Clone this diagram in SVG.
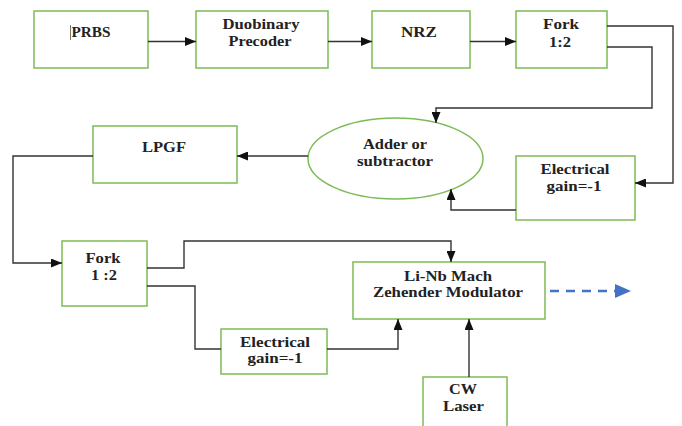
<svg xmlns="http://www.w3.org/2000/svg" width="682" height="426" viewBox="0 0 682 426">
<style>
.box{fill:#fff;stroke:#7dbb57;stroke-width:1.5}
.t{font-family:"Liberation Serif","Times New Roman",serif;font-weight:bold;font-size:14px;fill:#222;text-anchor:middle}
.c{fill:none;stroke:#333;stroke-width:1.4}
</style>
<defs>
<marker id="ah" markerUnits="userSpaceOnUse" markerWidth="11" markerHeight="9" refX="11" refY="4.5" orient="auto">
<path d="M0,0 L11,4.5 L0,9 z" fill="#111"/>
</marker>
</defs>
<rect width="682" height="426" fill="#fff"/>
<g id="prbs">
<rect class="box" x="34" y="11" width="114" height="57"/>
<line x1="70.5" y1="25" x2="70.5" y2="40" stroke="#555" stroke-width="0.8"/>
<text class="t" x="91" y="37" textLength="39" lengthAdjust="spacingAndGlyphs">PRBS</text>
</g>
<g id="duobinary">
<rect class="box" x="196" y="11" width="132" height="57"/>
<text class="t" x="261" y="29" textLength="77" lengthAdjust="spacingAndGlyphs">Duobinary</text>
<text class="t" x="260" y="46" textLength="63" lengthAdjust="spacingAndGlyphs">Precoder</text>
</g>
<g id="nrz">
<rect class="box" x="372" y="11" width="98" height="57"/>
<text class="t" x="419" y="37" textLength="36" lengthAdjust="spacingAndGlyphs">NRZ</text>
</g>
<g id="fork1">
<rect class="box" x="516" y="11" width="91" height="57"/>
<text class="t" x="561" y="29" textLength="36" lengthAdjust="spacingAndGlyphs">Fork</text>
<text class="t" x="560" y="47" textLength="22" lengthAdjust="spacingAndGlyphs">1:2</text>
</g>
<g id="adder">
<ellipse cx="395.5" cy="158.5" rx="87.5" ry="40.5" fill="#fff" stroke="#7dbb57" stroke-width="1.5"/>
<text class="t" x="395" y="149" textLength="64" lengthAdjust="spacingAndGlyphs">Adder or</text>
<text class="t" x="395" y="166" textLength="76" lengthAdjust="spacingAndGlyphs">subtractor</text>
</g>
<g id="gain1">
<rect class="box" x="516" y="156" width="119" height="64"/>
<text class="t" x="575" y="174" textLength="69" lengthAdjust="spacingAndGlyphs">Electrical</text>
<text class="t" x="574" y="191" textLength="55" lengthAdjust="spacingAndGlyphs">gain=-1</text>
</g>
<g id="lpgf">
<rect class="box" x="93" y="126" width="144" height="57"/>
<text class="t" x="164" y="152" textLength="44" lengthAdjust="spacingAndGlyphs">LPGF</text>
</g>
<g id="fork2">
<rect class="box" x="62" y="241" width="85" height="65"/>
<text class="t" x="103" y="263" textLength="35" lengthAdjust="spacingAndGlyphs">Fork</text>
<text class="t" x="104" y="280" textLength="26" lengthAdjust="spacingAndGlyphs">1 :2</text>
</g>
<g id="gain2">
<rect class="box" x="221" y="329" width="106" height="45"/>
<text class="t" x="275" y="347" textLength="70" lengthAdjust="spacingAndGlyphs">Electrical</text>
<text class="t" x="275" y="363" textLength="55" lengthAdjust="spacingAndGlyphs">gain=-1</text>
</g>
<g id="mzm">
<rect class="box" x="353" y="262" width="192" height="57"/>
<text class="t" x="448" y="281" textLength="88" lengthAdjust="spacingAndGlyphs">Li-Nb Mach</text>
<text class="t" x="448" y="297" textLength="150" lengthAdjust="spacingAndGlyphs">Zehender Modulator</text>
</g>
<g id="cwlaser">
<rect class="box" x="423" y="377" width="84" height="60"/>
<text class="t" x="463" y="394" textLength="28" lengthAdjust="spacingAndGlyphs">CW</text>
<text class="t" x="463.5" y="411" textLength="41" lengthAdjust="spacingAndGlyphs">Laser</text>
</g>
<g id="connectors">
<path class="c" d="M148,41.5 H196" marker-end="url(#ah)"/>
<path class="c" d="M328,41.5 H372" marker-end="url(#ah)"/>
<path class="c" d="M470,41.5 H516" marker-end="url(#ah)"/>
<path class="c" d="M607,26 H673 V183 H635" marker-end="url(#ah)"/>
<path class="c" d="M607,47 H652 V108 H436 V123" marker-end="url(#ah)"/>
<path class="c" d="M516,210 H451 V189" marker-end="url(#ah)"/>
<path class="c" d="M308,156 H237" marker-end="url(#ah)"/>
<path class="c" d="M93,156 H13 V263 H62" marker-end="url(#ah)"/>
<path class="c" d="M147,268 H184 V241 H451 V262" marker-end="url(#ah)"/>
<path class="c" d="M147,286 H195 V349 H221"/>
<path class="c" d="M327,349 H398 V319" marker-end="url(#ah)"/>
<path class="c" d="M469,377 V319" marker-end="url(#ah)"/>
<path d="M550,291 H616" fill="none" stroke="#4472c4" stroke-width="2.5" stroke-dasharray="9,7"/>
<path d="M615,284 L631,291 L615,298 z" fill="#4472c4"/>
</g>
</svg>
